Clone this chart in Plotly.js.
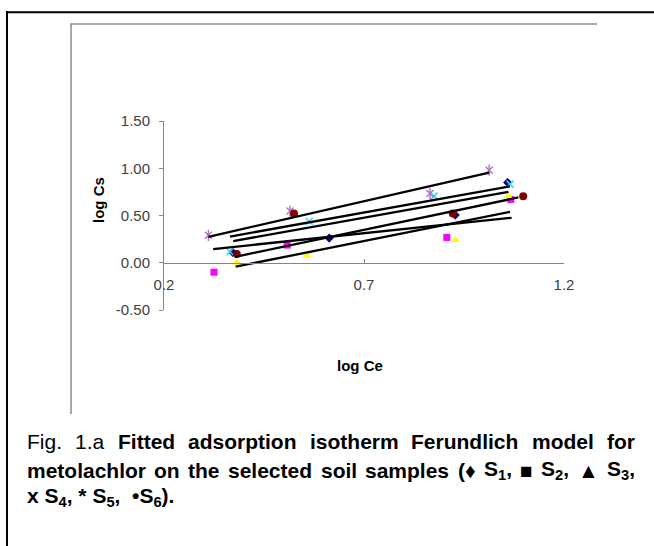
<!DOCTYPE html>
<html><head><meta charset="utf-8">
<script src="https://cdn.plot.ly/plotly-3.0.1.min.js"></script>
<style>html,body{margin:0;padding:0;background:#fff;} #chart{width:654px;height:546px;}</style>
</head><body><div id="chart"></div>
<script>
// ---- data ----
const seriesNames = ['S1', 'S2', 'S3', 'S4', 'S5', 'S6'];
const s1X = [0.372, 0.613, 0.928, 1.059];
const s1Y = [0.110, 0.261, 0.504, 0.850];
const s2X = [0.325, 0.508, 0.907, 1.067];
const s2Y = [-0.100, 0.187, 0.268, 0.670];
const s3X = [0.382, 0.557, 0.929, 1.061];
const s3Y = [0.000, 0.078, 0.240, 0.705];
const s4X = [0.365, 0.563, 0.875, 1.065];
const s4Y = [0.116, 0.440, 0.705, 0.832];
const s5X = [0.311, 0.515, 0.865, 1.013];
const s5Y = [0.290, 0.547, 0.733, 0.980];
const s6X = [0.382, 0.525, 0.922, 1.098];
const s6Y = [0.092, 0.522, 0.522, 0.705];
// fitted lines (end points)
const fit1X = [0.373, 1.061], fit1Y = [0.229, 0.750];
const fit2X = [0.323, 1.069], fit2Y = [0.145, 0.476];
const fit3X = [0.379, 1.065], fit3Y = [-0.042, 0.539];
const fit4X = [0.365, 1.065], fit4Y = [0.277, 0.809];
const fit5X = [0.311, 1.013], fit5Y = [0.275, 0.954];
const fit6X = [0.378, 1.086], fit6Y = [0.063, 0.691];
const xTickVals = [0.2, 0.7, 1.2];
const xTickText = ['0.2', '0.7', '1.2'];
const yTickVals = [-0.5, 0, 0.5, 1.0, 1.5];
const yTickText = ['-0.50', '0.00', '0.50', '1.00', '1.50'];

// ---- geometry ----
const W = 654, H = 546;
const M = {l: 164, r: 90, t: 121, b: 236};
const PW = W - M.l - M.r, PH = H - M.t - M.b;
const px = x => (x - M.l) / PW;
const py = y => 1 - (y - M.t) / PH;

const FONT = "'Liberation Sans', Arial, sans-serif";
const tickFont = {family: FONT, size: 15, color: '#404040'};

const ptsX = [s1X, s2X, s3X, s4X, s5X, s6X];
const ptsY = [s1Y, s2Y, s3Y, s4Y, s5Y, s6Y];
const fitsX = [fit1X, fit2X, fit3X, fit4X, fit5X, fit6X];
const fitsY = [fit1Y, fit2Y, fit3Y, fit4Y, fit5Y, fit6Y];

const markerStyles = [
  [{symbol: 'diamond', size: 7, color: '#000080'}],
  [{symbol: 'square', size: 7, color: '#FF00FF'}],
  [{symbol: 'triangle-up', size: 8, color: '#FFFF00'}],
  [{symbol: 'x-thin-open', size: 7, color: '#30D8F0', line: {width: 1.5, color: '#30D8F0'}}],
  [{symbol: 'x-thin-open', size: 7, color: '#B070C0', line: {width: 1.4, color: '#B070C0'}},
   {symbol: 'line-ns-open', size: 8, color: '#B070C0', line: {width: 1.4, color: '#B070C0'}}],
  [{symbol: 'circle', size: 8, color: '#800000'}]
];

const traces = [];
for (let i = 0; i < 6; i++) {
  markerStyles[i].forEach((ms, k) => {
    traces.push({x: ptsX[i], y: ptsY[i], type: 'scatter', mode: 'markers', name: seriesNames[i],
      marker: ms, cliponaxis: false, showlegend: false, hoverinfo: 'skip'});
  });
}
for (let i = 0; i < 6; i++) {
  traces.push({x: fitsX[i], y: fitsY[i], type: 'scatter', mode: 'lines', name: seriesNames[i] + ' fit',
    line: {color: '#000000', width: 2.3}, showlegend: false, hoverinfo: 'skip'});
}

// ---- caption (justified via measured word widths) ----
const capSize = 21;
const cv = document.createElement('canvas').getContext('2d');
function measure(text, bold) {
  const parts = text.split(/(<sub>.*?<\/sub>)/);
  let w = 0;
  for (const p of parts) {
    if (!p) continue;
    const m = p.match(/^<sub>(.*)<\/sub>$/);
    if (m) { cv.font = (bold ? 'bold ' : '') + (capSize * 0.7) + 'px ' + FONT; w += cv.measureText(m[1]).width; }
    else { cv.font = (bold ? 'bold ' : '') + capSize + 'px ' + FONT; w += cv.measureText(p).width; }
  }
  return w;
}
const capLeft = 27, capRight = 635;
const capLine1 = [['Fig.', false], ['1.a', false], ['Fitted', true], ['adsorption', true], ['isotherm', true],
  ['Ferundlich', true], ['model', true], ['for', true]];
const capLine2 = [['metolachlor', true], ['on', true], ['the', true], ['selected', true], ['soil', true],
  ['samples', true], ['(♦', true], ['S<sub>1</sub>,', true], ['■', true], ['S<sub>2</sub>,', true],
  ['▲', true], ['S<sub>3</sub>,', true]];
const capLine3 = 'x S<sub>4</sub>, * S<sub>5</sub>, \u00a0•S<sub>6</sub>).';
const capY = [441, 470, 497];

const annotations = [];
function justify(tokens, yPix) {
  const widths = tokens.map(t => measure(t[0], t[1]));
  const total = widths.reduce((a, b) => a + b, 0);
  const gap = (capRight - capLeft - total) / (tokens.length - 1);
  let x = capLeft;
  tokens.forEach((t, i) => {
    annotations.push({xref: 'paper', yref: 'paper', x: px(x), y: py(yPix), xanchor: 'left', yanchor: 'middle',
      text: t[1] ? '<b>' + t[0] + '</b>' : t[0], showarrow: false, borderpad: 0, borderwidth: 0,
      font: {family: FONT, size: capSize, color: '#000000'}});
    x += widths[i] + gap;
  });
}
justify(capLine1, capY[0]);
justify(capLine2, capY[1]);
annotations.push({xref: 'paper', yref: 'paper', x: px(capLeft), y: py(capY[2]), xanchor: 'left', yanchor: 'middle',
  text: '<b>' + capLine3 + '</b>', showarrow: false, borderpad: 0, borderwidth: 0,
  font: {family: FONT, size: capSize, color: '#000000'}});

// axis titles
annotations.push({xref: 'paper', yref: 'paper', x: px(98), y: py(200), xanchor: 'center', yanchor: 'middle',
  text: '<b>log Cs</b>', textangle: -90, showarrow: false, font: {family: FONT, size: 15, color: '#000000'}});
annotations.push({xref: 'paper', yref: 'paper', x: px(360), y: py(365), xanchor: 'center', yanchor: 'middle',
  text: '<b>log Ce</b>', showarrow: false, font: {family: FONT, size: 15, color: '#000000'}});

// frames
const shapes = [
  {type: 'line', xref: 'paper', yref: 'paper', x0: px(7), x1: px(7), y0: py(11), y1: py(560), line: {color: '#000', width: 2}},
  {type: 'line', xref: 'paper', yref: 'paper', x0: px(6), x1: px(660), y0: py(12.3), y1: py(12.3), line: {color: '#000', width: 2}},
  {type: 'line', xref: 'paper', yref: 'paper', x0: px(71), x1: px(71), y0: py(23.5), y1: py(414), line: {color: '#8c8c8c', width: 1.5}},
  {type: 'line', xref: 'paper', yref: 'paper', x0: px(70.5), x1: px(597), y0: py(24), y1: py(24), line: {color: '#8c8c8c', width: 1.5}}
];

const layout = {
  width: W, height: H, margin: M, paper_bgcolor: '#ffffff', plot_bgcolor: '#ffffff',
  showlegend: false,
  xaxis: {range: [0.2, 1.2], tickvals: xTickVals, ticktext: xTickText, anchor: 'free', position: 0.25,
    showline: true, linecolor: '#868686', linewidth: 1, ticks: 'inside', ticklen: 4, tickcolor: '#868686',
    showgrid: false, zeroline: false, tickfont: tickFont, ticklabelstandoff: 8, fixedrange: true},
  yaxis: {range: [-0.5, 1.5], tickvals: yTickVals, ticktext: yTickText, showline: true, linecolor: '#868686',
    linewidth: 1, ticks: 'outside', ticklen: 4, tickcolor: '#868686', showgrid: false, zeroline: false,
    tickfont: tickFont, ticklabelstandoff: 6, fixedrange: true},
  annotations: annotations, shapes: shapes
};
Plotly.newPlot('chart', traces, layout, {displayModeBar: false, staticPlot: true});
</script></body></html>
